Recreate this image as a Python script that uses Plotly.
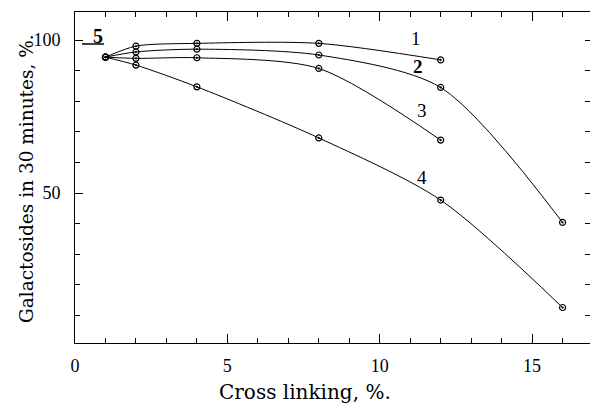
import plotly.graph_objects as go

# Data
curve1_x = [1, 2, 4, 8, 12]
curve1_y = [94.4, 98.0, 98.9, 98.9, 93.5]

curve2_x = [1, 2, 4, 8, 12, 16]
curve2_y = [94.4, 96.1, 97.0, 95.1, 84.5, 40.4]

curve3_x = [1, 2, 4, 8, 12]
curve3_y = [94.4, 94.0, 94.2, 90.7, 67.3]

curve4_x = [1, 2, 4, 8, 12, 16]
curve4_y = [94.4, 91.8, 84.7, 68.0, 47.7, 12.6]

curve_labels = ["1", "<b>2</b>", "3", "4"]
label_x = [11.2, 11.25, 11.4, 11.4]
label_y = [100.6, 91.2, 77.0, 55.0]

x_title = "Cross linking, %."
y_title = "Galactosides in 30 minutes, %."

X_RANGE = [0, 16.9]
Y_RANGE = [1, 109.15]

SERIF = "Liberation Serif, DejaVu Serif, serif"
WIDE_SERIF = "DejaVu Serif, Liberation Serif, serif"

fig = go.Figure()
for xs, ys in [(curve1_x, curve1_y), (curve2_x, curve2_y),
               (curve3_x, curve3_y), (curve4_x, curve4_y)]:
    fig.add_trace(go.Scatter(
        x=xs, y=ys, mode="lines+markers",
        line=dict(color="black", width=1, shape="spline", smoothing=0.8),
        marker=dict(symbol="circle-open-dot", size=6, color="black",
                    line=dict(width=1.2, color="black")),
        showlegend=False, hoverinfo="skip"))

# dummy trace for the top / right tick-only axes
fig.add_trace(go.Scatter(x=[None], y=[None], xaxis="x2", yaxis="y2",
                         showlegend=False, hoverinfo="skip"))

for t, lx, ly in zip(curve_labels, label_x, label_y):
    fig.add_annotation(x=lx, y=ly, text=t, showarrow=False,
                       font=dict(family=SERIF, size=19, color="black"))

fig.add_annotation(x=0.75, y=101.2, text="<b>5</b>", showarrow=False,
                   font=dict(family=SERIF, size=20, color="black"))
fig.add_shape(type="line", x0=0.23, x1=0.95, y0=98.7, y1=98.7,
              line=dict(color="black", width=1.5))

# axis titles
fig.add_annotation(xref="paper", yref="paper", x=0.447, y=-0.148,
                   xanchor="center", yanchor="middle",
                   text=x_title, showarrow=False,
                   font=dict(family=WIDE_SERIF, size=20, color="black"))
fig.add_annotation(xref="paper", yref="paper", x=-0.094, y=0.497,
                   xanchor="center", yanchor="middle",
                   text=y_title, showarrow=False, textangle=-90,
                   font=dict(family=WIDE_SERIF, size=18.5, color="black"))

tick_common = dict(tickcolor="black", tickwidth=1, showgrid=False,
                   zeroline=False)

fig.update_layout(
    width=592, height=405,
    margin=dict(l=75, r=2, t=12, b=62),
    paper_bgcolor="white", plot_bgcolor="white",
    font=dict(family=SERIF, size=18, color="black"),
    xaxis=dict(
        range=X_RANGE, tickmode="linear", tick0=0, dtick=5,
        ticks="inside", ticklen=9, showline=True, linecolor="black",
        linewidth=1,
        minor=dict(tickmode="linear", tick0=0, dtick=1, ticks="inside",
                   ticklen=5, tickcolor="black", showgrid=False),
        ticklabelstandoff=6, tickfont=dict(size=18), **tick_common,
    ),
    xaxis2=dict(
        overlaying="x", side="top", range=X_RANGE, tickmode="linear",
        tick0=0, dtick=5, ticks="inside", ticklen=9, showline=True,
        linecolor="black", linewidth=1, showticklabels=False,
        minor=dict(tickmode="linear", tick0=0, dtick=1, ticks="inside",
                   ticklen=5, tickcolor="black", showgrid=False),
        **tick_common,
    ),
    yaxis=dict(
        range=Y_RANGE, tickmode="linear", tick0=0, dtick=50,
        ticks="inside", ticklen=8, showline=True, linecolor="black",
        linewidth=1,
        minor=dict(tickmode="linear", tick0=0, dtick=10, ticks="inside",
                   ticklen=5, tickcolor="black", showgrid=False),
        ticklabelstandoff=10, tickfont=dict(size=18), **tick_common,
    ),
    yaxis2=dict(
        overlaying="y", side="right", range=Y_RANGE, tickmode="linear",
        tick0=0, dtick=10, ticks="inside", ticklen=5,
        showticklabels=False, showline=False, **tick_common,
    ),
)

fig.write_html("out.html",
               config={"displayModeBar": False},
               post_script=["document.body.style.margin='0';"
                            "document.body.style.overflow='hidden';"])
